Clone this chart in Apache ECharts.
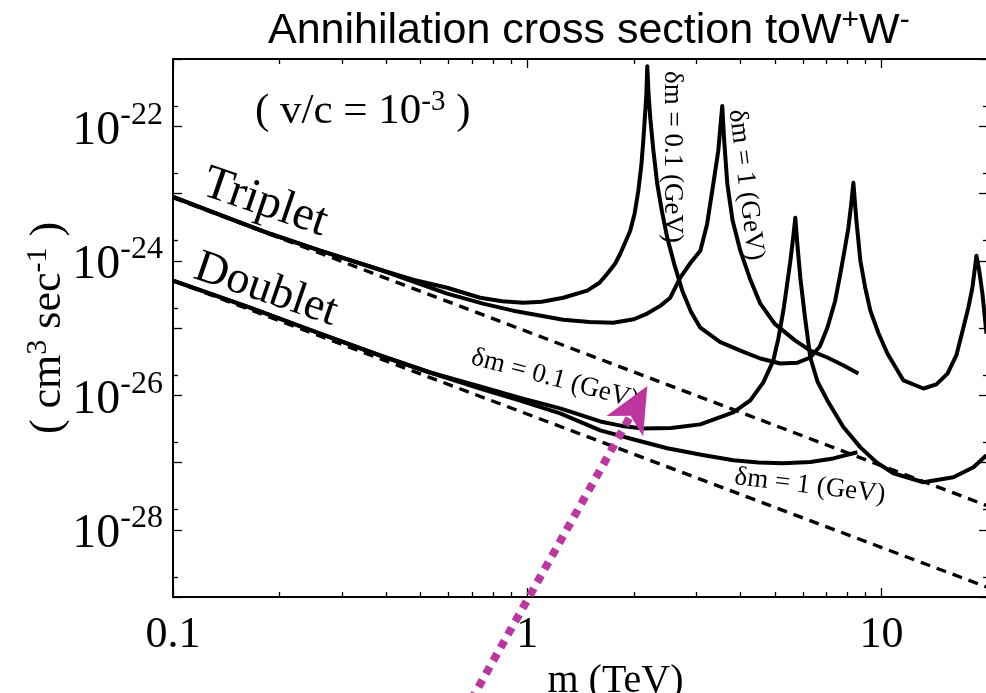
<!DOCTYPE html>
<html><head><meta charset="utf-8">
<script src="https://cdn.jsdelivr.net/npm/echarts@6/dist/echarts.min.js"></script>
<style>html,body{margin:0;padding:0;background:#fff}#c{width:986px;height:693px}</style>
</head><body><div id="c"></div>
<script>
// ---------- tick values (data units) ----------
const xMajorTicks = [0.1, 1, 10];
const xMinorTicks = [0.2,0.3,0.4,0.5,0.6,0.7,0.8,0.9,2,3,4,5,6,7,8,9];
const xLabelValues = [0.1, 1, 10];
const yMajorTicks = [1e-29,1e-28,1e-27,1e-26,1e-25,1e-24,1e-23,1e-22,1e-21];
const yMinorTicks = [2e-29,2e-28,2e-27,2e-26,2e-25,2e-24,2e-23,2e-22];
const yLabelValues = [1e-28,1e-26,1e-24,1e-22];
const xRange = [0.1, 20];
const yRange = [1e-29, 1e-21];

// ---------- data: [m (TeV), sigma v (cm^3/s)] ----------
const tripletPert = [[0.1, 8.7e-24],[19.8, 2.3e-28]];
const doubletPert = [[0.1, 5.05e-25],[19.8, 1.41e-29]];

const tripletDm01 = [[0.1,8.91e-24],[0.1358,4.81e-24],[0.1879,2.52e-24],[0.2602,1.41e-24],[0.3843,7.35e-25],
 [0.4764,5.22e-25],[0.5943,3.97e-25],[0.7364,2.82e-25],[0.85,2.50e-25],[0.974,2.38e-25],[1.10,2.45e-25],[1.264,2.82e-25],[1.477,3.59e-25],
 [1.60,4.70e-25],[1.683,6.41e-25],[1.77,9.0e-25],[1.831,1.27e-24],[1.954,2.79e-24],[2.010,5.0e-24],[2.059,1.09e-23],[2.100,2.6e-23],[2.127,6.03e-23],[2.169,2.81e-22],
 [2.183,7.82e-22],[2.200,3.2e-22],[2.226,1.32e-22],[2.27,4.5e-23],[2.329,1.39e-23],[2.40,5.5e-24],[2.486,2.19e-24],[2.60,9.0e-25],[2.741,3.59e-25],[2.90,1.75e-25],[3.082,1.01e-25],
 [3.50,6.2e-26],[3.997,4.62e-26],[4.552,3.52e-26],[5.184,2.96e-26],[5.80,3.05e-26],[6.300,3.64e-26],[6.70,5.3e-26],[7.039,1.01e-25],[7.40,2.5e-25],[7.660,6.41e-25],
 [7.90,1.6e-24],[8.069,3.09e-24],[8.22,7.0e-24],[8.335,1.44e-23],[8.50,4.0e-24],[8.724,1.00e-24],[9.0,4.0e-25],[9.308,1.81e-25],[9.80,8.5e-26],[10.40,4.17e-26],[11.54,1.66e-26],
 [13.14,1.26e-26],[14.3,1.45e-26],[15.37,2.10e-26],[16.3,4.0e-26],[17.04,1.01e-25],[17.6,2.0e-25],[18.07,3.97e-25],[18.35,7.5e-25],[18.55,1.19e-24],[18.9,7.0e-25],[19.29,3.24e-25],[19.80,8.26e-26]];

const tripletDm1 = [[0.1,8.91e-24],[0.1358,4.81e-24],[0.1879,2.52e-24],[0.2602,1.41e-24],[0.3843,7.35e-25],
 [0.5943,3.24e-25],[0.75,2.30e-25],[0.913,1.81e-25],[1.264,1.33e-25],[1.50,1.23e-25],[1.750,1.20e-25],[2.0,1.35e-25],[2.183,1.64e-25],[2.38,2.15e-25],[2.535,2.82e-25],
 [2.705,5.60e-25],[2.90,9.5e-25],[3.082,1.41e-24],[3.22,3.5e-24],[3.353,1.39e-23],[3.463,4.28e-23],[3.554,2.00e-22],[3.60,6.0e-23],[3.673,1.39e-23],[3.80,4.0e-24],
 [3.997,1.41e-24],[4.25,5.5e-25],[4.552,2.30e-25],[5.0,1.15e-25],[5.715,6.50e-26],[6.3,4.6e-26],[7.039,3.64e-26],[7.8,2.8e-26],[8.610,2.10e-26]];

const doubletDm01 = [[0.1,5.05e-25],[0.1650,2.01e-25],[0.2602,8.26e-26],[0.3843,3.90e-26],[0.532,2.18e-26],
 [0.7364,1.35e-26],[0.95,9.2e-27],[1.239,6.37e-27],[1.608,4.08e-27],[1.85,3.50e-27],[2.127,3.21e-27],[2.55,3.25e-27],[3.082,3.69e-27],[3.818,5.56e-27],
 [4.266,8.38e-27],[4.642,1.55e-26],[4.953,3.28e-26],[5.12,7.0e-26],[5.287,1.81e-25],[5.42,4.5e-25],[5.535,1.00e-24],[5.64,2.3e-24],[5.715,4.35e-24],
 [5.80,1.6e-24],[5.904,5.60e-25],[6.08,1.5e-25],[6.300,3.64e-26],[6.6,1.6e-26],[7.039,8.38e-27],[7.8,3.4e-27],[8.724,1.68e-27],[9.7,1.0e-27],[10.81,6.92e-28],[13.14,5.08e-28],
 [15.97,6.03e-28],[18.19,8.49e-28],[19.80,1.28e-27]];

const doubletDm1 = [[0.1,5.05e-25],[0.1650,2.01e-25],[0.2602,8.26e-26],[0.3843,3.90e-26],[0.532,2.18e-26],
 [0.7364,1.26e-26],[0.95,8.4e-27],[1.239,5.37e-27],[1.608,3.01e-27],[2.0,2.2e-27],[2.486,1.63e-27],[3.1,1.30e-27],[3.818,1.08e-27],[4.5,1.0e-27],[5.287,9.73e-28],
 [6.3,1.02e-27],[7.319,1.15e-27],[8.555,1.42e-27]];

// annotation arrow (data coordinates): tail at bottom, tip of the head
const arrowTail = [0.695, 2.94e-31];
const arrowShaftEnd = [1.947, 4.69e-27];
const arrowTip = [2.183, 1.37e-26];

// ---------- build (log10 transform for the library's linear scales) ----------
const L = Math.log10;
const tr = arr => arr.map(p => [L(p[0]), L(p[1])]);

const SERIF = '"Liberation Serif","DejaVu Serif",serif';
const SANS = '"Liberation Sans Narrow","Liberation Sans",Arial,sans-serif';
const MAGENTA = '#BD359F';
const chart = echarts.init(document.getElementById('c'), null, {renderer:'canvas'});

function xAx(pos, ticks, len, line, labels) {
  return {
    type:'value', min:L(xRange[0]), max:L(xRange[1]), position:pos,
    axisLine:{show:line, onZero:false, lineStyle:{color:'#000', width:2}},
    axisTick:{show:true, inside:true, length:len, customValues:ticks.map(L), lineStyle:{color:'#000', width:1.3}},
    axisLabel: labels ? {show:true, customValues:xLabelValues.map(L), margin:16, color:'#000',
      fontFamily:SERIF, fontSize:44, formatter:v=>String(Number(Math.pow(10,v).toPrecision(3)))} : {show:false},
    splitLine:{show:false}
  };
}
function yAx(pos, ticks, len, line, labels) {
  return {
    type:'value', min:L(yRange[0]), max:L(yRange[1]), position:pos,
    axisLine:{show:line, onZero:false, lineStyle:{color:'#000', width:2}},
    axisTick:{show:true, inside:true, length:len, customValues:ticks.map(L), lineStyle:{color:'#000', width:1.3}},
    axisLabel: labels ? {show:true, customValues:yLabelValues.map(L), margin:10, color:'#000',
      formatter:v=>'{b|10}{s|'+Math.round(v)+'}',
      rich:{b:{fontFamily:SERIF, fontSize:48, color:'#000', padding:[10,0,0,0]}, s:{fontFamily:SERIF, fontSize:32, color:'#000', padding:[0,0,22,0]}}} : {show:false},
    splitLine:{show:false},
    name: labels ? '( cm{s|3} sec{s|-1} )' : '', nameLocation:'middle', nameGap:100, nameRotate:90,
    nameMoveOverlap:false,
    nameTextStyle:{fontFamily:SERIF, fontSize:44, color:'#000',
      rich:{s:{fontFamily:SERIF, fontSize:30, color:'#000', padding:[0,0,20,0]}}}
  };
}

const xAxes = [xAx('bottom', xMajorTicks, 9, true, true), xAx('bottom', xMinorTicks, 5, false, false),
               xAx('top', xMajorTicks, 9, true, false), xAx('top', xMinorTicks, 5, false, false)];
xAxes[0].name = 'm (TeV)'; xAxes[0].nameLocation='middle'; xAxes[0].nameGap = 58;
xAxes[0].nameTextStyle = {fontFamily:SERIF, fontSize:40, color:'#000', padding:[0,0,0,70]};
const yAxes = [yAx('left', yMajorTicks, 9, true, true), yAx('left', yMinorTicks, 5, false, false),
               yAx('right', yMajorTicks, 9, true, false), yAx('right', yMinorTicks, 5, false, false)];

function curve(data, dashed) {
  return {type:'line', data:tr(data), showSymbol:false, symbol:'none', smooth:false, silent:true,
    lineStyle:{color:'#000', width:dashed ? 3.4 : 4, type: dashed ? [10,7] : 'solid', join:'round'}, z: dashed ? 2 : 3};
}

const option = {
  animation:false, backgroundColor:'#fff',
  grid:{left:173, right:-2, top:59, bottom:96, containLabel:false, outerBoundsMode:'none'},
  xAxis:xAxes, yAxis:yAxes,
  series:[
    curve(tripletPert, true), curve(doubletPert, true),
    curve(tripletDm01), curve(tripletDm1), curve(doubletDm01), curve(doubletDm1),
    {type:'line', data:tr([arrowTail, arrowShaftEnd]), clip:false, showSymbol:false, symbol:'none', silent:true, z:10,
      lineStyle:{color:MAGENTA, width:8, type:[8,7], cap:'butt'}},
    {type:'custom', clip:false, silent:true, z:11,
      data:[[L(arrowTip[0]), L(arrowTip[1]), L(arrowTail[0]), L(arrowTail[1])]],
      encode:{x:0, y:1},
      renderItem:function(params, api){
        const tip = api.coord([api.value(0), api.value(1)]);
        const tail = api.coord([api.value(2), api.value(3)]);
        const dx = tip[0]-tail[0], dy = tip[1]-tail[1], len = Math.hypot(dx, dy);
        const ux = dx/len, uy = dy/len, px = -uy, py = ux;
        const H = 46, W = 21, N = 0.74*H;
        return {type:'polygon', shape:{points:[
          [tip[0], tip[1]],
          [tip[0]-ux*H+px*W, tip[1]-uy*H+py*W],
          [tip[0]-ux*N, tip[1]-uy*N],
          [tip[0]-ux*H-px*W, tip[1]-uy*H-py*W]
        ]}, style:{fill:MAGENTA}};
      }}
  ],
  graphic:[
    {type:'text', left:268, top:6, style:{text:'{t|Annihilation cross section toW}{s|+}{t|W}{s|-}',
      rich:{t:{fontFamily:SANS, fontSize:43, fill:'#000'}, s:{fontFamily:SANS, fontSize:30, fill:'#000', padding:[0,0,20,0]}}}},
    {type:'text', x:255, y:112, style:{text:'{t|( v/c = 10}{s|-3}{t| )}', verticalAlign:'middle',
      rich:{t:{fontFamily:SERIF, fontSize:43, fill:'#000'}, s:{fontFamily:SERIF, fontSize:29, fill:'#000', padding:[0,0,19,0]}}}},
    {type:'text', x:265, y:203, rotation:-0.33, style:{text:'Triplet', align:'center', verticalAlign:'middle', font:'48px '+SERIF, fill:'#000'}},
    {type:'text', x:266, y:290, rotation:-0.33, style:{text:'Doublet', align:'center', verticalAlign:'middle', font:'46px '+SERIF, fill:'#000'}},
    {type:'text', x:672, y:157, rotation:-Math.PI/2, style:{text:'δm = 0.1 (GeV)', align:'center', verticalAlign:'middle', font:'27px '+SERIF, fill:'#000'}},
    {type:'text', x:746, y:185, rotation:-1.447, style:{text:'δm = 1 (GeV)', align:'center', verticalAlign:'middle', font:'27px '+SERIF, fill:'#000'}},
    {type:'text', x:555, y:379, rotation:-0.26, style:{text:'δm = 0.1 (GeV)', align:'center', verticalAlign:'middle', font:'27px '+SERIF, fill:'#000'}},
    {type:'text', x:810, y:486, rotation:-0.12, style:{text:'δm = 1 (GeV)', align:'center', verticalAlign:'middle', font:'27px '+SERIF, fill:'#000'}}
  ]
};
chart.setOption(option);
</script></body></html>
